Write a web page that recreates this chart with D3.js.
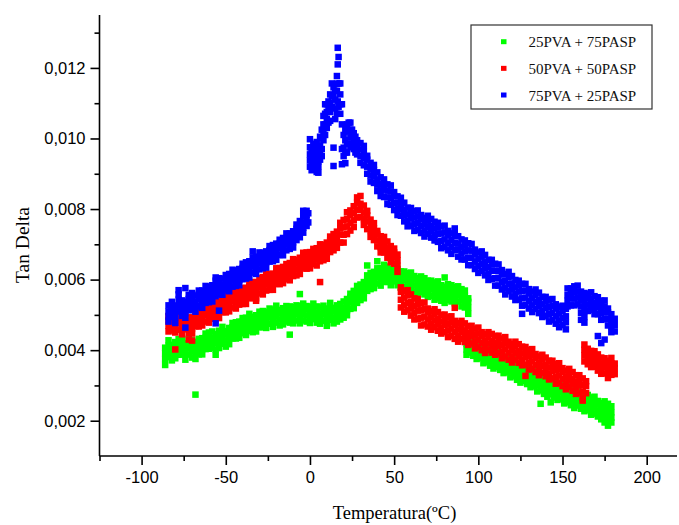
<!DOCTYPE html>
<html>
<head>
<meta charset="utf-8">
<script src="https://cdn.jsdelivr.net/npm/d3@7"></script>
<style>
  body { margin: 0; background: #fff; }
  svg { display: block; }
</style>
</head>
<body>
<svg id="chart"></svg>
<script>
// Tan Delta, in units of 1e-3.
// Each row: [temperature, reading, reading, ...] - the scattered readings around that temperature
const pva25 = [
  [-86,3.58,3.75,3.91,4.07],[-84,3.80,3.97,4.13,4.28],[-82,3.71,3.88,4.05,4.15],[-80,3.77,3.92,4.08,4.23],
  [-78,3.87,4.03,4.19,4.31],[-76,3.88,4.04,4.17,4.34],[-74,3.73,3.87,4.02,4.19],[-72,3.88,4.06,4.20,4.31],
  [-70,3.79,3.96,4.12,4.28],[-68,3.75,3.92,4.08,4.23,2.74],[-66,3.88,4.05,4.22,4.32],[-64,3.88,4.03,4.19,4.34],
  [-62,4.03,4.19,4.35,4.47],[-60,4.04,4.20,4.33,4.50],[-58,4.07,4.21,4.36,4.53],[-56,4.02,4.20,4.34,4.45,3.87],
  [-54,4.06,4.23,4.39,4.55],[-52,4.18,4.35,4.51,4.66],[-50,4.10,4.27,4.44,4.54],[-48,4.17,4.32,4.48,4.63],
  [-46,4.33,4.49,4.65,4.77],[-44,4.33,4.49,4.62,4.79],[-42,4.35,4.49,4.64,4.81],[-40,4.48,4.66,4.80,4.91],
  [-38,4.43,4.60,4.76,4.92],[-36,4.55,4.72,4.88,5.03],[-34,4.51,4.68,4.85,4.95],[-32,4.53,4.68,4.84,4.99],
  [-30,4.65,4.81,4.97,5.09],[-28,4.65,4.81,4.94,5.11],[-26,4.63,4.77,4.92,5.09],[-24,4.75,4.93,5.07,5.18],
  [-22,4.66,4.83,4.99,5.15],[-20,4.78,4.95,5.11,5.26],[-18,4.70,4.87,5.04,5.14],[-16,4.73,4.88,5.04,5.19],
  [-14,4.81,4.97,5.13,5.25],[-12,4.78,4.94,5.07,5.24,4.44],[-10,4.76,4.90,5.05,5.22],[-8,4.84,5.02,5.16,5.27],
  [-6,4.76,4.93,5.09,5.25,5.59],[-4,4.84,5.01,5.17,5.32],[-2,4.81,4.98,5.15,5.25],[0,4.77,4.92,5.08,5.23],
  [2,4.88,5.04,5.20,5.32],[4,4.78,4.94,5.07,5.24],[6,4.75,4.89,5.04,5.21],[8,4.83,5.01,5.15,5.26],
  [10,4.69,4.86,5.02,5.18],[12,4.86,5.03,5.19,5.34],[14,4.76,4.93,5.10,5.20],[16,4.81,4.96,5.12,5.27],
  [18,4.87,5.03,5.19,5.31],[20,4.92,5.08,5.21,5.38],[22,4.99,5.13,5.28,5.45],[24,5.17,5.35,5.49,5.60],
  [26,5.19,5.36,5.52,5.68],[28,5.34,5.51,5.67,5.82],[30,5.42,5.59,5.76,5.86],[32,5.47,5.62,5.78,5.93],
  [34,5.68,5.84,6.00,6.12,6.40],[36,5.73,5.89,6.02,6.19],[38,5.76,5.90,6.05,6.22],[40,5.89,6.07,6.21,6.32,6.52],
  [42,5.83,6.00,6.16,6.32],[44,5.94,6.11,6.27,6.42],[46,5.93,6.10,6.27,6.37],[48,5.84,5.99,6.15,6.30],
  [50,5.95,6.11,6.27,6.39],[52,5.84,6.00,6.13,6.30],[54,5.77,5.91,6.06,6.23],[56,5.80,5.98,6.12,6.23],
  [58,5.69,5.86,6.02,6.18],[60,5.72,5.89,6.05,6.20],[62,5.66,5.83,6.00,6.10],[64,5.58,5.73,5.89,6.04],
  [66,5.65,5.81,5.97,6.09],[68,5.58,5.74,5.87,6.04],[70,5.51,5.65,5.80,5.97],[72,5.54,5.72,5.86,5.97],
  [74,5.43,5.60,5.76,5.92],[76,5.47,5.64,5.80,5.95],[78,5.40,5.57,5.74,5.84],[80,5.34,5.49,5.65,5.80,6.06],
  [82,5.43,5.59,5.75,5.87],[84,5.38,5.54,5.67,5.84],[86,5.33,5.47,5.62,5.79],[88,5.38,5.56,5.70,5.81],
  [90,5.24,5.41,5.57,5.73],[92,5.21,5.38,5.54,5.69],[94,5.03,5.20,5.37,5.47],
  [93,3.87,4.02,4.18,4.33],[95,3.93,4.09,4.25,4.37],[97,3.84,4.00,4.13,4.30],[99,3.75,3.89,4.04,4.21],
  [101,3.78,3.96,4.10,4.21],[103,3.63,3.80,3.96,4.12],[105,3.66,3.83,3.99,4.14],[107,3.56,3.73,3.90,4.00],
  [109,3.48,3.63,3.79,3.94],[111,3.53,3.69,3.85,3.97],[113,3.44,3.60,3.73,3.90],[115,3.35,3.49,3.64,3.81],
  [117,3.38,3.56,3.70,3.81],[119,3.23,3.40,3.56,3.72],[121,3.26,3.43,3.59,3.74],[123,3.16,3.33,3.50,3.60],
  [125,3.08,3.23,3.39,3.54],[127,3.13,3.29,3.45,3.57],[129,3.04,3.20,3.33,3.50],[131,2.95,3.09,3.24,3.41],
  [133,2.98,3.16,3.30,3.41],[135,2.83,3.00,3.16,3.32],[137,2.86,3.03,3.19,3.34,2.48],[139,2.76,2.93,3.10,3.20],
  [141,2.68,2.83,2.99,3.14],[143,2.75,2.91,3.07,3.19,2.52],[145,2.66,2.82,2.95,3.12],[147,2.59,2.73,2.88,3.05],
  [149,2.62,2.80,2.94,3.05],[151,2.49,2.66,2.82,2.98],[153,2.52,2.69,2.85,3.00],[155,2.44,2.61,2.78,2.88],
  [157,2.36,2.51,2.67,2.82],[159,2.43,2.59,2.75,2.87],[161,2.34,2.50,2.63,2.80],[163,2.27,2.41,2.56,2.73],
  [165,2.30,2.48,2.62,2.73],[167,2.17,2.34,2.50,2.66],[169,2.20,2.37,2.53,2.68],[171,2.12,2.29,2.46,2.56],
  [173,2.04,2.19,2.35,2.50],[175,2.11,2.27,2.43,2.55,1.95],[177,2.02,2.18,2.31,2.48,1.86],[179,1.95,2.09,2.24,2.41]
];

const pva50 = [
  [-84,4.53,4.69,4.85,4.97],[-82,4.56,4.72,4.85,5.02,5.25],[-80,4.50,4.64,4.79,4.96,4.02],[-78,4.58,4.76,4.90,5.01],
  [-76,4.45,4.62,4.78,4.94],[-74,4.59,4.76,4.92,5.07],[-72,4.48,4.65,4.82,4.92,4.30],[-70,4.47,4.62,4.78,4.93,4.27],
  [-68,4.68,4.84,5.00,5.12],[-66,4.67,4.83,4.96,5.13],[-64,4.70,4.84,4.99,5.16],[-62,4.81,4.99,5.13,5.24],
  [-60,4.78,4.95,5.11,5.27],[-58,4.89,5.06,5.22,5.37],[-56,4.91,5.08,5.25,5.35],[-54,4.91,5.06,5.22,5.37],
  [-52,5.08,5.24,5.40,5.52],[-50,5.07,5.23,5.36,5.53],[-48,5.10,5.24,5.39,5.56],[-46,5.21,5.39,5.53,5.64],
  [-44,5.18,5.35,5.51,5.67],[-42,5.29,5.46,5.62,5.77],[-40,5.31,5.48,5.65,5.75],[-38,5.31,5.46,5.62,5.77],
  [-36,5.48,5.64,5.80,5.92],[-34,5.47,5.63,5.76,5.93],[-32,5.47,5.61,5.76,5.93,5.40],[-30,5.61,5.79,5.93,6.04],
  [-28,5.58,5.75,5.91,6.07],[-26,5.69,5.86,6.02,6.17],[-24,5.71,5.88,6.05,6.15],[-22,5.71,5.86,6.02,6.17],
  [-20,5.88,6.04,6.20,6.32],[-18,5.87,6.03,6.16,6.33],[-16,5.90,6.04,6.19,6.36],[-14,6.01,6.19,6.33,6.44],
  [-12,5.98,6.15,6.31,6.47],[-10,6.10,6.27,6.43,6.58],[-8,6.12,6.29,6.46,6.56],[-6,6.16,6.31,6.47,6.62],
  [-4,6.32,6.48,6.64,6.76],[-2,6.31,6.47,6.60,6.77],[0,6.32,6.46,6.61,6.78],[2,6.44,6.62,6.76,6.87],
  [4,6.40,6.57,6.73,6.89],[6,6.52,6.69,6.85,7.00,5.93],[8,6.55,6.72,6.89,6.99],[10,6.59,6.74,6.90,7.05],
  [12,6.78,6.94,7.10,7.22],[14,6.83,6.99,7.12,7.29],[16,6.90,7.04,7.19,7.36],[18,7.05,7.28,7.46,7.61],
  [20,7.05,7.27,7.48,7.69],[22,7.29,7.51,7.72,7.91],[24,7.39,7.61,7.83,7.96],[26,7.49,7.68,7.89,8.08],
  [28,7.76,7.97,8.18,8.33],[30,7.77,7.98,8.15,8.37],[32,7.55,7.72,7.90,8.10],[34,7.43,7.65,7.82,7.95],
  [36,7.21,7.38,7.54,7.70],[38,7.12,7.29,7.45,7.60],[40,6.94,7.11,7.28,7.38],[42,6.77,6.92,7.08,7.23],
  [44,6.77,6.93,7.09,7.21],[46,6.62,6.78,6.91,7.08],[48,6.49,6.63,6.78,6.95],[50,6.45,6.63,6.77,6.88],
  [52,6.22,6.39,6.55,6.71],
  [54,5.21,5.43,5.65,5.78],[56,5.09,5.28,5.49,5.68],[58,5.13,5.34,5.55,5.70],[60,4.98,5.19,5.36,5.58],
  [62,4.87,5.06,5.25,5.47],[64,4.89,5.12,5.30,5.45],[66,4.70,4.92,5.13,5.34],[68,4.73,4.95,5.16,5.35],
  [70,4.67,4.87,5.07,5.18],[72,4.58,4.75,4.93,5.11],[74,4.65,4.84,5.02,5.16],[76,4.55,4.73,4.88,5.08],
  [78,4.47,4.63,4.81,5.00],[80,4.51,4.72,4.88,5.01],[82,4.37,4.56,4.75,4.93],[84,4.41,4.61,4.79,4.96],
  [86,4.32,4.52,4.72,4.83,5.20],[88,4.24,4.41,4.59,4.77],[90,4.32,4.51,4.69,4.83],[92,4.23,4.41,4.56,4.76],
  [94,4.15,4.31,4.49,4.68],[96,4.19,4.40,4.56,4.69],[98,4.05,4.24,4.43,4.61],[100,4.09,4.29,4.47,4.64],
  [102,4.00,4.20,4.40,4.51],[104,3.92,4.09,4.27,4.45],[106,4.00,4.19,4.37,4.51],[108,3.93,4.11,4.26,4.46],
  [110,3.87,4.03,4.21,4.40],[112,3.91,4.12,4.28,4.41],[114,3.77,3.96,4.15,4.33],[116,3.82,4.02,4.20,4.37],
  [118,3.73,3.93,4.13,4.24],[120,3.65,3.82,4.00,4.18],[122,3.73,3.92,4.10,4.24],[124,3.64,3.82,3.97,4.17],
  [126,3.57,3.73,3.91,4.10],[128,3.59,3.80,3.96,4.09,3.27],[130,3.45,3.64,3.83,4.01],[132,3.48,3.68,3.86,4.03],
  [134,3.38,3.58,3.78,3.89],[136,3.29,3.46,3.64,3.82],[138,3.36,3.55,3.73,3.87],[140,3.26,3.44,3.59,3.79],
  [142,3.17,3.33,3.51,3.70],[144,3.20,3.41,3.57,3.70],[146,3.05,3.24,3.43,3.61],[148,3.08,3.28,3.46,3.63],
  [150,2.98,3.18,3.38,3.49],[152,2.89,3.06,3.24,3.42],[154,2.96,3.15,3.33,3.47],[156,2.85,3.03,3.18,3.38],
  [158,2.76,2.92,3.10,3.29],[160,2.79,3.00,3.16,3.29],[162,2.64,2.83,3.02,3.20,2.57],[164,2.78,2.98,3.12],
  [163,3.68,3.85,4.01,4.16],[165,3.60,3.77,3.94,4.04],[167,3.52,3.67,3.83,3.98],[169,3.53,3.69,3.85,3.97],
  [171,3.42,3.58,3.71,3.88],[173,3.33,3.47,3.62,3.79],[175,3.34,3.52,3.66,3.77],[177,3.21,3.38,3.54,3.70],
  [179,3.30,3.47,3.63,3.78],[181,3.32,3.49,3.62]
];

const pva75 = [
  [-84,4.81,4.95,5.10,5.27],[-82,4.94,5.12,5.26,5.37],[-80,4.77,4.94,5.10,5.26],[-78,5.10,5.27,5.43,5.58,5.70],
  [-76,4.97,5.14,5.31,5.41],[-74,4.92,5.07,5.23,5.38,4.64,5.76],[-72,5.13,5.29,5.45,5.57],[-70,5.16,5.32,5.45,5.62],
  [-68,5.09,5.23,5.38,5.55],[-66,5.26,5.44,5.58,5.69],[-64,5.20,5.37,5.53,5.69],[-62,5.34,5.51,5.67,5.82],
  [-60,5.36,5.53,5.70,5.80],[-58,5.38,5.53,5.69,5.84],[-56,5.53,5.69,5.85,5.97,4.76,6.06],[-54,5.58,5.74,5.87,6.04,5.12],
  [-52,5.57,5.71,5.86,6.03],[-50,5.70,5.88,6.02,6.13],[-48,5.67,5.84,6.00,6.16],[-46,5.80,5.97,6.13,6.28],
  [-44,5.82,5.99,6.16,6.26],[-42,5.84,5.99,6.15,6.30],[-40,6.01,6.17,6.33,6.45],[-38,6.03,6.19,6.32,6.49],
  [-36,6.06,6.20,6.35,6.52],[-34,6.20,6.38,6.52,6.63,6.80],[-32,6.16,6.33,6.49,6.65],[-30,6.29,6.46,6.62,6.77],
  [-28,6.32,6.49,6.66,6.76],[-26,6.34,6.49,6.65,6.80],[-24,6.51,6.67,6.83,6.95],[-22,6.52,6.68,6.81,6.98],
  [-20,6.56,6.70,6.85,7.02],[-18,6.70,6.88,7.02,7.13],[-16,6.69,6.86,7.02,7.18],[-14,6.83,7.00,7.16,7.31],
  [-12,6.87,7.04,7.21,7.31],[-10,6.91,7.06,7.22,7.37],[-8,7.12,7.28,7.44,7.56],[-6,7.20,7.36,7.49,7.66],
  [-4,7.33,7.47,7.62,7.79,7.95],[-2,7.52,7.70,7.84,7.95],[-1,7.62,7.88],
  [0,9.20,9.38,9.55,9.75,9.98],[1,9.10,9.28,9.40,9.62,9.75],[2,9.27,9.45,9.60,9.85],[3,9.15,9.30,9.45,9.60,9.74],
  [4,9.05,9.25,9.50,9.70,9.90],[5,9.03,9.20,9.35,9.65],[6,9.40,9.55,9.80,10.05],[7,9.50,9.70,10.00,10.25],
  [8,9.95,10.20,10.40,10.64],[9,10.10,10.40,10.70,10.97],[10,10.30,10.55,10.75,10.97],[11,10.45,10.80,11.05],
  [12,10.50,10.75,11.00,11.25],[13,10.90,11.20,11.56],[14,9.22,9.74,11.20,11.45],[15,10.55,10.85,11.10,11.35],
  [16,10.70,11.35,11.55,11.77],[16.5,11.05,12.10,12.57],[17,10.90,11.56,12.31],[18,10.70,10.97,11.25,11.56],
  [19,9.27,9.70,10.40,10.97],[20,9.50,9.74,10.10],[21,9.30,9.60,9.95,10.25],[22,9.60,9.85,10.20,10.40],
  [23,9.85,10.20,10.45],[24,9.75,10.03,10.25,10.45],[25,9.80,10.03,10.25],[26,9.70,9.95,10.15],
  [27,9.60,9.85,10.05],[28,9.55,9.74,9.95],
  [30,9.31,9.50,9.69,9.87],[32,9.24,9.44,9.62,9.79],[34,9.00,9.20,9.40,9.51],[36,8.78,8.95,9.13,9.31],
  [38,8.74,8.93,9.11,9.25],[40,8.51,8.69,8.84,9.04],[42,8.37,8.53,8.71,8.90],[44,8.34,8.55,8.71,8.84],
  [46,8.14,8.33,8.52,8.70],[48,8.12,8.32,8.50,8.67],[50,7.97,8.17,8.37,8.48],[52,7.83,8.00,8.18,8.36],
  [54,7.81,8.00,8.18,8.32],[56,7.65,7.83,7.98,8.18],[58,7.51,7.67,7.85,8.04],[60,7.53,7.74,7.90,8.03],
  [62,7.38,7.57,7.76,7.94],[64,7.41,7.61,7.79,7.96],[66,7.32,7.52,7.72,7.83],[68,7.22,7.39,7.57,7.75],
  [70,7.30,7.49,7.67,7.81],[72,7.19,7.37,7.52,7.72],[74,7.11,7.27,7.45,7.64],[76,7.07,7.30,7.48,7.61],
  [78,6.89,7.10,7.31,7.51],[80,6.93,7.14,7.34,7.53],[82,6.83,7.04,7.26,7.38],[84,6.73,6.92,7.12,7.31],
  [86,6.84,7.04,7.24,7.39,7.45],[88,6.65,6.85,7.02,7.23],[90,6.57,6.74,6.93,7.14],[92,6.57,6.80,6.98,7.11],
  [94,6.41,6.62,6.83,7.03],[96,6.41,6.62,6.82,7.01],[98,6.30,6.51,6.73,6.85],[100,6.19,6.38,6.58,6.77],
  [102,6.25,6.45,6.65,6.80],[104,6.12,6.32,6.49,6.70],[106,5.99,6.16,6.35,6.56],[108,6.02,6.25,6.43,6.56],
  [110,5.83,6.04,6.25,6.45],[112,5.83,6.04,6.24,6.43],[114,5.72,5.93,6.15,6.27],[116,5.58,5.77,5.97,6.16],
  [118,5.67,5.87,6.07,6.22],[120,5.52,5.72,5.89,6.10],[122,5.42,5.59,5.78,5.99],[124,5.43,5.66,5.84,5.97],
  [126,5.26,5.47,5.68,5.88,5.03],[128,5.28,5.49,5.69,5.88],[130,5.18,5.39,5.61,5.73],[132,5.08,5.27,5.47,5.66],
  [134,5.17,5.37,5.57,5.72],[136,5.05,5.25,5.42,5.63],[138,4.94,5.11,5.30,5.51],[140,4.97,5.20,5.38,5.51],
  [142,4.81,5.02,5.23,5.43],[144,4.85,5.06,5.26,5.45],[146,4.75,4.96,5.18,5.30],[148,4.65,4.84,5.04,5.23],
  [150,4.71,4.91,5.11,5.26],[152,4.59,4.79,4.96,5.17],
  [153,5.24,5.40,5.56,5.75],[155,5.27,5.47,5.62,5.75],[157,5.27,5.46,5.64,5.81],[159,5.30,5.49,5.66,5.83],
  [161,5.06,5.24,5.43,5.54,4.86,5.66],[163,4.94,5.11,5.28,5.45,4.78,5.62],[165,5.11,5.29,5.47,5.60],[167,5.14,5.31,5.46,5.64],
  [169,5.02,5.18,5.34,5.53],[171,5.02,5.22,5.37,5.50,4.40],[173,4.86,5.05,5.23,5.40,4.20],[175,4.88,5.07,5.24,5.41,4.30],
  [177,4.70,4.88,5.07,5.18],[179,4.51,4.68,4.85,5.02],[181,4.53,4.71,4.89]
];

const seriesNames = ["25PVA + 75PASP", "50PVA + 50PASP", "75PVA + 25PASP"];
const seriesColors = ["#00ff00", "#ff0000", "#0000ff"];
const xTicks = [-100, -50, 0, 50, 100, 150, 200];
const xMinor = [-125, -75, -25, 25, 75, 125, 175];
const yTicks = [0.002, 0.004, 0.006, 0.008, 0.010, 0.012];
const yMinor = [0.003, 0.005, 0.007, 0.009, 0.011, 0.013];

const width = 679, height = 525;
const margin = {top: 15, right: 2, bottom: 69, left: 99.5};

const toPoints = rows => rows.flatMap(([t, ...vs]) => vs.map(v => [t, v / 1000]));
const series = [pva25, pva50, pva75].map(toPoints);

const svg = d3.select('#chart')
    .attr('width', width)
    .attr('height', height)
    .attr('viewBox', [0, 0, width, height]);

const x = d3.scaleLinear()
    .domain([-125, 218])
    .range([margin.left, width - margin.right]);

const y = d3.scaleLinear()
    .domain([0.001, 0.0135])
    .range([height - margin.bottom, margin.top]);

// points, green first and blue last like the original
const size = 6.5;
series.forEach((pts, i) => {
  svg.append('g')
      .attr('fill', seriesColors[i])
    .selectAll('rect')
    .data(pts)
    .join('rect')
      .attr('x', d => x(d[0]) - size / 2)
      .attr('y', d => y(d[1]) - size / 2)
      .attr('width', size)
      .attr('height', size);
});

const tickFont = '"Liberation Sans", Arial, sans-serif';
const serif = '"Liberation Serif", "Times New Roman", serif';

// x axis
const xAxis = svg.append('g')
    .attr('transform', `translate(0,${height - margin.bottom})`)
    .call(d3.axisBottom(x).tickValues(xTicks).tickSize(9).tickPadding(6)
      .tickFormat(d => String(d)));
xAxis.append('g')
    .call(d3.axisBottom(x).tickValues(xMinor).tickSize(5).tickFormat(''))
    .select('.domain').remove();

// y axis
const yAxis = svg.append('g')
    .attr('transform', `translate(${margin.left},0)`)
    .call(d3.axisLeft(y).tickValues(yTicks).tickSize(9).tickPadding(5)
      .tickFormat(d => d3.format('.3f')(d).replace('.', ',')));
yAxis.append('g')
    .call(d3.axisLeft(y).tickValues(yMinor).tickSize(5).tickFormat(''))
    .select('.domain').remove();

svg.selectAll('.domain, .tick line')
    .attr('stroke', '#000')
    .attr('stroke-width', 1.6);
xAxis.select('.domain').attr('d', `M${margin.left},0H${width - margin.right}`);
yAxis.select('.domain').attr('d', `M0,${height - margin.bottom}V${margin.top}`);

svg.selectAll('.tick text')
    .attr('fill', '#000')
    .style('font-family', tickFont)
    .style('font-size', '16.5px');

// axis titles
svg.append('text')
    .attr('x', 394.5)
    .attr('y', 519)
    .attr('text-anchor', 'middle')
    .style('font-family', serif)
    .style('font-size', '18.5px')
    .text('Temperatura(ºC)');

svg.append('text')
    .attr('transform', 'translate(29,245) rotate(-90)')
    .attr('text-anchor', 'middle')
    .style('font-family', serif)
    .style('font-size', '19.5px')
    .text('Tan Delta');

// legend
const legend = svg.append('g');
legend.append('rect')
    .attr('x', 471)
    .attr('y', 25)
    .attr('width', 181)
    .attr('height', 84)
    .attr('fill', '#fff')
    .attr('stroke', '#333')
    .attr('stroke-width', 1.2);

const rowY = d3.scalePoint().domain(seriesNames).range([41.7, 95]);
const items = legend.selectAll('g.item')
  .data(seriesNames)
  .join('g')
    .attr('class', 'item')
    .attr('transform', d => `translate(0,${rowY(d)})`);
items.append('rect')
    .attr('x', 501)
    .attr('y', -2.5)
    .attr('width', 5.5)
    .attr('height', 5)
    .attr('fill', (d, i) => seriesColors[i]);
items.append('text')
    .attr('x', 528.5)
    .attr('y', 5.5)
    .attr('fill', '#111')
    .style('font-family', serif)
    .style('font-size', '15px')
    .text(d => d);
</script>
</body>
</html>
